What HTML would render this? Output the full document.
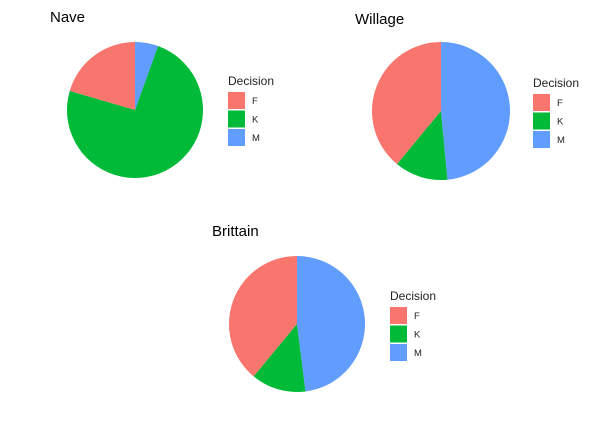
<!DOCTYPE html>
<html><head><meta charset="utf-8"><style>
body{margin:0;background:#fff;font-family:"Liberation Sans",Arial,sans-serif}
svg{display:block}
</style></head><body>
<svg id="c" width="609" height="434"></svg>
<script>
const categories=["F","K","M"];
const colors=["#F8766D","#00BA38","#619CFF"];
const naveValues=[0.205,0.74,0.055];
const willageValues=[0.39,0.125,0.485];
const brittainValues=[0.39,0.13,0.48];
const panels=[
 {name:"Nave",vals:naveValues,cx:135,cy:110,r:68,tx:50,ty:22,lx:228,ly:80},
 {name:"Willage",vals:willageValues,cx:441,cy:111,r:69,tx:355,ty:24,lx:533,ly:82},
 {name:"Brittain",vals:brittainValues,cx:297,cy:324,r:68,tx:212,ty:236,lx:390,ly:295}
];
const NS="http://www.w3.org/2000/svg";
const svg=document.getElementById("c");
function mk(t,a){const e=document.createElementNS(NS,t);for(const k in a)e.setAttribute(k,a[k]);return e;}
function pt(cx,cy,r,f){const a=-f*2*Math.PI;return [cx+r*Math.sin(a),cy-r*Math.cos(a)];}
panels.forEach(p=>{
 const g=mk("g",{});
 
 
 svg.appendChild(g);
 const t=mk("text",{x:p.tx,y:p.ty,"font-size":"15","fill":"#000"});
 t.textContent=p.name;
 
 
 g.appendChild(t);
 const tot=p.vals.reduce((a,b)=>a+b,0);
 let acc=0;
 p.vals.forEach((v,i)=>{
  const f0=acc/tot,f1=(acc+v)/tot;acc+=v;
  const [x0,y0]=pt(p.cx,p.cy,p.r,f0),[x1,y1]=pt(p.cx,p.cy,p.r,f1);
  const large=(f1-f0)>0.5?1:0;
  const s=mk("path",{d:`M${p.cx},${p.cy}L${x0},${y0}A${p.r},${p.r} 0 ${large} 0 ${x1},${y1}Z`,fill:colors[i]});
  
  
  g.appendChild(s);
 });
 const lt=mk("text",{x:p.lx,y:p.ly+5,"font-size":"12","fill":"#222"});
 lt.textContent="Decision";
 
 
 g.appendChild(lt);
 categories.forEach((c,i)=>{
  const y=p.ly+12+i*18.5;
  const r=mk("rect",{x:p.lx,y:y,width:17,height:17,fill:colors[i]});
  
  
  g.appendChild(r);
  const l=mk("text",{x:p.lx+24,y:y+12,"font-size":"9.5","fill":"#222"});
  l.textContent=c;
  
  
  g.appendChild(l);
 });
});
</script>
</body></html>
